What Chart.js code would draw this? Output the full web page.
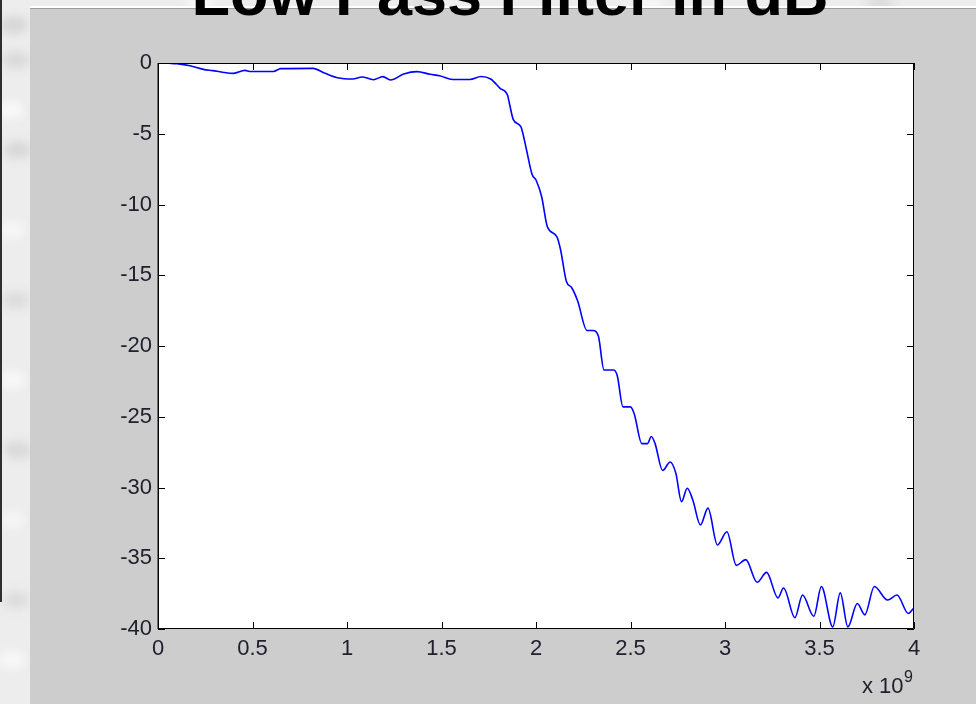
<!DOCTYPE html>
<html>
<head>
<meta charset="utf-8">
<script src="https://cdn.jsdelivr.net/npm/chart.js@4.4.1/dist/chart.umd.min.js"></script>
<style>
  html, body { margin: 0; padding: 0; background: #ececec; }
  canvas { display: block; }
</style>
</head>
<body>
<canvas id="lpf" width="976" height="704"></canvas>
<script>
// frequency in units of 1e9 Hz, gain in dB
const freqGHz = [
  0.00, 0.06, 0.10, 0.17, 0.24, 0.29, 0.34, 0.40, 0.46, 0.49,
  0.61, 0.65, 0.82, 0.88, 0.95, 1.03, 1.08, 1.14, 1.19, 1.23,
  1.30, 1.37, 1.44, 1.49, 1.56, 1.65, 1.71, 1.76, 1.81, 1.85,
  1.86, 1.88, 1.92, 1.93, 1.95, 1.98, 2.00, 2.03, 2.06, 2.11,
  2.13, 2.16, 2.19, 2.22, 2.27, 2.30, 2.33, 2.36, 2.41, 2.43,
  2.46, 2.50, 2.52, 2.56, 2.59, 2.61, 2.63, 2.67, 2.71, 2.74,
  2.77, 2.80, 2.83, 2.87, 2.91, 2.96, 3.01, 3.06, 3.11, 3.17,
  3.22, 3.28, 3.31, 3.37, 3.41, 3.47, 3.51, 3.57, 3.61, 3.65,
  3.70, 3.74, 3.79, 3.86, 3.91, 3.97, 4.00
];
const gainDb = [
  0.00, -0.02, -0.05, -0.20, -0.45, -0.54, -0.65, -0.73, -0.52, -0.60,
  -0.60, -0.40, -0.38, -0.70, -1.04, -1.13, -0.99, -1.18, -0.96, -1.20,
  -0.78, -0.61, -0.80, -0.90, -1.17, -1.17, -0.95, -1.13, -1.79, -2.30,
  -2.90, -4.00, -4.50, -4.95, -6.15, -7.90, -8.27, -9.45, -11.57, -12.27,
  -13.20, -15.40, -15.90, -16.80, -18.90, -18.90, -19.30, -21.70, -21.70, -22.10,
  -24.30, -24.30, -24.80, -26.90, -26.90, -26.40, -26.90, -28.80, -28.20, -29.00,
  -31.00, -30.05, -30.90, -32.65, -31.46, -34.06, -33.13, -35.50, -35.10, -36.70,
  -36.00, -37.80, -37.10, -39.20, -37.60, -39.10, -37.00, -39.85, -37.45, -39.85,
  -38.20, -39.00, -37.00, -37.95, -37.60, -38.90, -38.50
];
const xTicks = [0, 0.5, 1, 1.5, 2, 2.5, 3, 3.5, 4];
const yTicks = [0, -5, -10, -15, -20, -25, -30, -35, -40];

const titleText = 'Low Pass Filter in dB';
const fontFamily = 'Liberation Sans, Arial, sans-serif';
const labelFont = { family: fontFamily, size: 22 };
const labelColor = '#20202e';

// desktop texture, figure panel, white axes area
const backdrop = {
  id: 'backdrop',
  beforeDraw(chart) {
    const ctx = chart.ctx;
    const a = chart.chartArea;
    ctx.save();
    ctx.fillStyle = '#ededed';
    ctx.fillRect(0, 0, chart.width, chart.height);
    // soft blotches, like the blurred desktop behind the window
    ctx.filter = 'blur(5px)';
    const spots = [[14, 25, '#d6d6d6'], [16, 60, '#dadada'], [10, 110, '#f8f8f8'], [18, 150, '#d8d8d8'],
                   [12, 230, '#f6f6f6'], [16, 300, '#dcdcdc'], [12, 380, '#f7f7f7'], [18, 450, '#d9d9d9'],
                   [12, 520, '#f5f5f5'], [16, 600, '#dddddd'], [12, 660, '#f7f7f7'],
                   [200, 3, '#f8f8f8'], [420, 4, '#dddddd'], [650, 3, '#f6f6f6'], [880, 4, '#dcdcdc']];
    spots.forEach(([x, y, c]) => {
      ctx.fillStyle = c;
      ctx.beginPath();
      ctx.ellipse(x, y, 14, 9, 0, 0, Math.PI * 2);
      ctx.fill();
    });
    ctx.filter = 'none';
    ctx.fillStyle = '#2e2e2e';
    ctx.fillRect(0, 0, 2, 602);
    ctx.fillStyle = '#ffffff';
    ctx.fillRect(30, 6, chart.width - 30, 2);
    ctx.fillStyle = '#9c9c9c';
    ctx.fillRect(30, 8, chart.width - 30, 1);
    ctx.fillStyle = '#cdcdcd';
    ctx.fillRect(30, 9, chart.width - 30, chart.height - 9);
    ctx.fillStyle = '#ffffff';
    ctx.fillRect(a.left, a.top, a.right - a.left, a.bottom - a.top);
    ctx.restore();
  },
  afterDraw(chart) {
    const ctx = chart.ctx;
    const a = chart.chartArea;
    const xs = chart.scales.x, ys = chart.scales.y;
    const tl = 7;
    ctx.save();
    ctx.strokeStyle = '#000';
    ctx.lineWidth = 1;
    ctx.beginPath();
    ctx.rect(a.left + 0.5, a.top + 0.5, a.right - a.left - 1, a.bottom - a.top - 1);
    xTicks.forEach(v => {
      const px = Math.round(xs.getPixelForValue(v)) + 0.5;
      ctx.moveTo(px, a.bottom); ctx.lineTo(px, a.bottom - tl);
      ctx.moveTo(px, a.top); ctx.lineTo(px, a.top + tl);
    });
    yTicks.forEach(v => {
      const py = Math.round(ys.getPixelForValue(v)) + 0.5;
      ctx.moveTo(a.left, py); ctx.lineTo(a.left + tl, py);
      ctx.moveTo(a.right, py); ctx.lineTo(a.right - tl, py);
    });
    ctx.stroke();
    // left axis looks a touch heavier in the screenshot
    ctx.strokeStyle = 'rgba(0,0,0,0.45)';
    ctx.beginPath();
    ctx.moveTo(a.left - 0.5, a.top); ctx.lineTo(a.left - 0.5, a.bottom);
    ctx.stroke();

    // exponent label
    ctx.fillStyle = labelColor;
    ctx.font = '22px ' + fontFamily;
    ctx.textBaseline = 'alphabetic';
    ctx.textAlign = 'left';
    ctx.fillText('x 10', 862, 693);
    ctx.font = '16px ' + fontFamily;
    ctx.fillText('9', 904, 682);

    // title, cut off by the top edge
    ctx.fillStyle = '#000';
    ctx.font = 'bold 63px ' + fontFamily;
    ctx.textAlign = 'center';
    ctx.fillText(titleText, 510, 15);
    ctx.restore();
  }
};

new Chart(document.getElementById('lpf'), {
  type: 'line',
  data: {
    datasets: [{
      data: freqGHz.map((f, i) => ({ x: f, y: gainDb[i] })),
      borderColor: '#0000ff',
      borderWidth: 1.6,
      pointRadius: 0,
      fill: false,
      tension: 0.4,
      cubicInterpolationMode: 'monotone'
    }]
  },
  options: {
    responsive: false,
    animation: false,
    layout: { padding: { left: 0, right: 62, top: 63, bottom: 0 } },
    plugins: { legend: { display: false }, tooltip: { enabled: false } },
    scales: {
      x: {
        type: 'linear',
        min: 0, max: 4,
        afterBuildTicks: s => { s.ticks = xTicks.map(v => ({ value: v })); },
        afterFit: s => { s.height = 75; },
        grid: { display: false, drawTicks: false, tickLength: 0 },
        border: { display: false },
        ticks: { font: labelFont, color: labelColor, padding: 7, maxRotation: 0,
                 callback: v => String(v) }
      },
      y: {
        min: -40, max: 0,
        afterBuildTicks: s => { s.ticks = yTicks.map(v => ({ value: v })); },
        afterFit: s => { s.width = 158; },
        grid: { display: false, drawTicks: false, tickLength: 0 },
        border: { display: false },
        ticks: { font: labelFont, color: labelColor, padding: 6,
                 callback: v => String(v) }
      }
    }
  },
  plugins: [backdrop]
});
</script>
</body>
</html>
